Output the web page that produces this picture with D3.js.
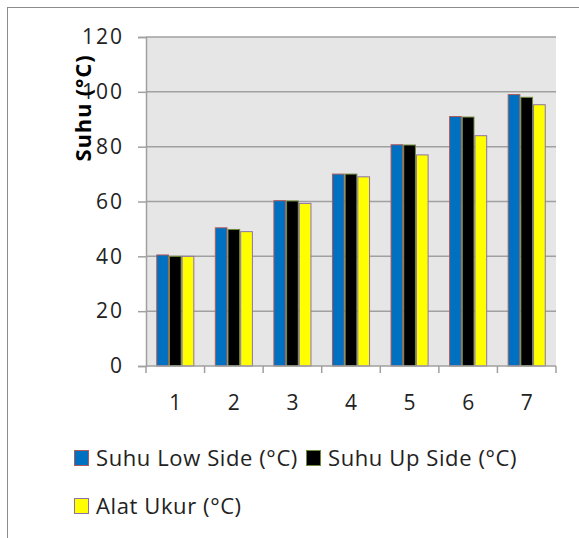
<!DOCTYPE html>
<html>
<head>
<meta charset="utf-8">
<script src="https://cdn.jsdelivr.net/npm/d3@7"></script>
<style>
  body { margin: 0; background: #fff; }
  svg { display: block; font-family: "Open Sans", sans-serif; }
</style>
</head>
<body>
<div id="chart"></div>
<script>
const categories = ['1', '2', '3', '4', '5', '6', '7'];
const seriesNames = ['Suhu Low Side (°C)', 'Suhu Up Side (°C)', 'Alat Ukur (°C)'];
const lowSide = [40.5, 50.4, 60.3, 70, 80.7, 91, 99];
const upSide = [40, 49.8, 60.2, 70, 80.6, 90.8, 98];
const alatUkur = [40, 49, 59.3, 69, 77, 84, 95.3];
const yTicks = [0, 20, 40, 60, 80, 100, 120];

const fills = ['#0070c0', '#000000', '#ffff00'];
const strokes = ['#b05a5a', '#6e8a3a', '#8a72a8'];

const width = 579;
const height = 538;
const plot = {left: 146, right: 556, top: 37, bottom: 366};

const svg = d3.select('#chart')
              .append('svg')
              .attr('width', width)
              .attr('height', height);

// outer frame (right and bottom edges are cut off)
svg.append('rect')
   .attr('x', 7.5).attr('y', 7.5)
   .attr('width', 700).attr('height', 700)
   .attr('fill', 'none')
   .attr('stroke', '#8c8c8c');

const x = d3.scaleBand()
            .domain(categories)
            .range([plot.left, plot.right])
            .paddingInner(0.35)
            .paddingOuter(0.175);

const xSub = d3.scaleBand()
               .domain(d3.range(seriesNames.length))
               .range([0, x.bandwidth()]);

const y = d3.scaleLinear()
            .domain([0, 120])
            .range([plot.bottom, plot.top]);

svg.append('rect')
   .attr('x', plot.left).attr('y', plot.top)
   .attr('width', plot.right - plot.left)
   .attr('height', plot.bottom - plot.top)
   .attr('fill', '#e6e6e6');

// y axis with gridlines
const yAxis = svg.append('g')
   .attr('transform', `translate(${plot.left}, 0)`)
   .call(d3.axisLeft(y).tickValues(yTicks).tickSize(8).tickPadding(14));
yAxis.select('.domain').attr('stroke', '#a0a0a0').attr('stroke-width', 1.5);
yAxis.selectAll('.tick line').attr('stroke', '#a0a0a0').attr('stroke-width', 1.5);
yAxis.selectAll('.tick text')
     .attr('font-size', '21px')
     .attr('letter-spacing', '2px')
     .attr('fill', '#222')
     .attr('font-family', 'Open Sans');

svg.append('g')
   .selectAll('line')
   .data(yTicks.filter(d => d > 0))
   .join('line')
   .attr('x1', plot.left).attr('x2', plot.right)
   .attr('y1', d => y(d)).attr('y2', d => y(d))
   .attr('stroke', '#a0a0a0')
   .attr('stroke-width', 1.5);

// bars
const data = [lowSide, upSide, alatUkur];
const groups = svg.append('g')
   .selectAll('g')
   .data(categories)
   .join('g')
   .attr('transform', d => `translate(${x(d)}, 0)`);

groups.selectAll('rect')
   .data((c, i) => data.map((s, k) => ({k: k, v: s[i]})))
   .join('rect')
   .attr('x', d => xSub(d.k) + 0.5)
   .attr('y', d => y(d.v))
   .attr('width', xSub.bandwidth() - 1)
   .attr('height', d => y(0) - y(d.v))
   .attr('fill', d => fills[d.k])
   .attr('stroke', d => strokes[d.k])
   .attr('stroke-width', 1);

// x axis: ticks between categories
const step = x.step();
const xEdges = d3.range(categories.length + 1).map(i => plot.left + i * step);
svg.append('line')
   .attr('x1', plot.left).attr('x2', plot.right)
   .attr('y1', plot.bottom).attr('y2', plot.bottom)
   .attr('stroke', '#a0a0a0').attr('stroke-width', 1.5);
svg.append('g')
   .selectAll('line')
   .data(xEdges)
   .join('line')
   .attr('x1', d => d).attr('x2', d => d)
   .attr('y1', plot.bottom).attr('y2', plot.bottom + 7)
   .attr('stroke', '#a0a0a0').attr('stroke-width', 1.5);
svg.append('g')
   .selectAll('text')
   .data(categories)
   .join('text')
   .attr('x', d => x(d) + x.bandwidth() / 2)
   .attr('y', 410)
   .attr('text-anchor', 'middle')
   .attr('font-size', '21px')
   .attr('fill', '#222')
   .text(d => d);

// y title
svg.append('text')
   .attr('transform', 'translate(91, 108) rotate(-90)')
   .attr('text-anchor', 'middle')
   .attr('font-size', '22px')
   .attr('letter-spacing', '0.8px')
   .attr('font-weight', 'bold')
   .attr('fill', '#000')
   .text('Suhu (°C)');

// legend
const legendPos = [{x: 74, y: 458}, {x: 306, y: 458}, {x: 74, y: 506}];
const legend = svg.append('g')
   .selectAll('g')
   .data(seriesNames)
   .join('g')
   .attr('transform', (d, i) => `translate(${legendPos[i].x}, ${legendPos[i].y})`);
legend.append('rect')
   .attr('x', 0.5).attr('y', -7.5)
   .attr('width', 14).attr('height', 15)
   .attr('fill', (d, i) => fills[i])
   .attr('stroke', (d, i) => strokes[i]);
legend.append('text')
   .attr('x', 22)
   .attr('y', 8)
   .attr('font-size', '22px')
   .attr('letter-spacing', '0.6px')
   .attr('fill', '#222')
   .text(d => d);
</script>
</body>
</html>
